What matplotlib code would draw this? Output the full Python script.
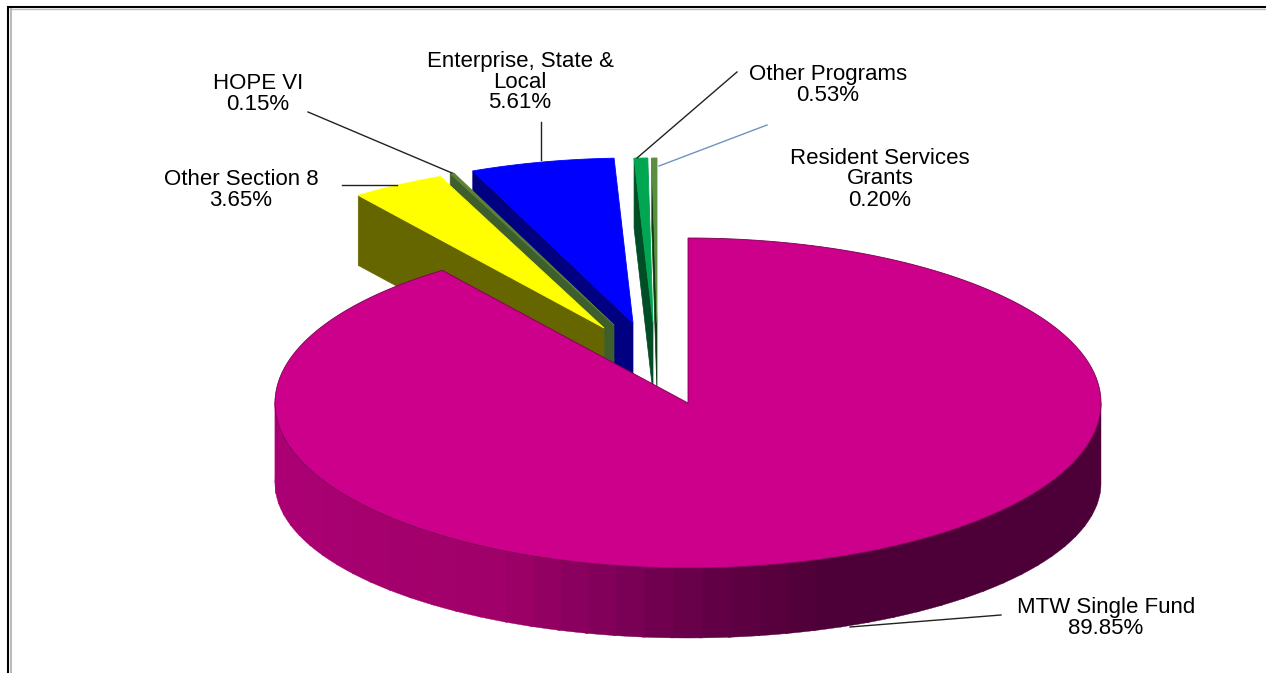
import numpy as np
import matplotlib
matplotlib.use("Agg")
import matplotlib.pyplot as plt
from matplotlib.patches import Polygon

plt.rcParams['font.family'] = ['Liberation Sans', 'DejaVu Sans']

# Funding sources, clockwise from twelve o'clock
sources = ["MTW Single Fund", "Other Section 8", "HOPE VI",
           "Enterprise, State &\nLocal", "Other Programs", "Resident Services\nGrants"]
shares = [89.85, 3.65, 0.15, 5.61, 0.53, 0.20]
top_colors = ["#CC008A", "#FFFF00", "#5C8238", "#0000FF", "#00A651", "#5A8F40"]
wall_colors = ["#4C0037", "#666600", "#3E5F2C", "#000080", "#004D26", "#0A3A12"]
explode_dx = [0, -84, -74, -55, -35, -31]
explode_dy = [0, -75, -78, -80, -80, -80]
draw_order = [4, 5, 3, 2, 1, 0]

label_x = [1106, 241, 258, 520, 828, 880]
label_y = [618, 190, 94, 82, 85, 179]

# Leader lines: start and end of each, with its colour
leader_x = [(1001, 850), (342, 397), (308, 452), (541, 541), (737, 637), (767, 659)]
leader_y = [(615, 627), (185, 185), (112, 173), (122, 160), (72, 158), (125, 166)]
leader_colors = ["#222222", "#222222", "#222222", "#222222", "#222222", "#6F93BD"]

# Rim shading of the large slice against clock angle
shade_angle = [90, 160, 167, 181, 192, 207, 250, 272]
shade_r = [76, 76, 85, 105, 130, 160, 170, 172]
shade_g = [0, 0, 0, 0, 0, 0, 0, 0]
shade_b = [55, 55, 60, 75, 90, 105, 115, 118]

# Projection of the disc
cx, cy, rx, ry = 688, 403, 413, 165
base_cy, base_ry = 483, 155
depth = 70


def rim(theta, center_y, radius_y, dx=0, dy=0):
    t = np.radians(theta)
    return cx + dx + rx * np.sin(t), center_y + dy - radius_y * np.cos(t)


fig = plt.figure(figsize=(12.66, 6.73), dpi=100, facecolor="white")
ax = fig.add_axes([0, 0, 1, 1])
ax.set_xlim(0, 1266)
ax.set_ylim(673, 0)
ax.axis("off")

# Chart frame: open on the right and at the bottom, with a soft inner shadow
ax.plot([10.5, 10.5], [9, 673], color="#BBBBBB", lw=1.5, zorder=1)
ax.plot([10, 1266], [9, 9], color="#BBBBBB", lw=1.0, zorder=1)
ax.plot([8, 8, 1266], [673, 7, 7], color="black", lw=1.5, zorder=2,
        solid_joinstyle="miter")

edges = np.concatenate([[0], np.cumsum(shares)]) / sum(shares) * 360
z = 3
for i in draw_order:
    a0, a1 = edges[i], edges[i + 1]
    dx, dy = explode_dx[i], explode_dy[i]
    arc = np.linspace(a0, a1, max(int(a1 - a0) * 2, 3))
    x, y = rim(arc, cy, ry, dx, dy)
    apex = (cx + dx, cy + dy)

    if i == 0:
        # Curved front rim, shaded in narrow bands
        bands = np.arange(90, min(a1, 272), 4.0)
        for b0 in bands:
            b1 = min(b0 + 4.4, 272)
            tt = np.linspace(b0, b1, 6)
            xt, yt = rim(tt, cy, ry)
            xb, yb = rim(tt, base_cy, base_ry)
            mid = (b0 + b1) / 2
            rgb = [np.interp(mid, shade_angle, c) / 255
                   for c in (shade_r, shade_g, shade_b)]
            ax.add_patch(Polygon(np.column_stack([np.r_[xt, xb[::-1]], np.r_[yt, yb[::-1]]]),
                                 fc=rgb, ec=rgb, lw=0.3, zorder=z))
    else:
        # Cut face on the left side of an exploded slice
        x0, y0 = x[0], y[0]
        wall = [(x0, y0), apex, (apex[0], apex[1] + depth), (x0, y0 + depth)]
        ax.add_patch(Polygon(wall, fc=wall_colors[i], ec=wall_colors[i], lw=0.5, zorder=z))
    z += 1
    outline = "#7A0052" if i == 0 else top_colors[i]
    ax.add_patch(Polygon(np.column_stack([np.r_[apex[0], x], np.r_[apex[1], y]]),
                         fc=top_colors[i], ec=outline, lw=0.6, zorder=z))
    z += 1

for lx, ly, lc in zip(leader_x, leader_y, leader_colors):
    ax.plot(lx, ly, color=lc, lw=1.0, zorder=z)

for name, share, tx, ty in zip(sources, shares, label_x, label_y):
    ax.text(tx, ty, f"{name}\n{share:.2f}%", ha="center", va="center",
            fontsize=16, color="black", linespacing=1.0, zorder=z + 1)

fig.savefig("out.png", dpi=100, facecolor="white")
